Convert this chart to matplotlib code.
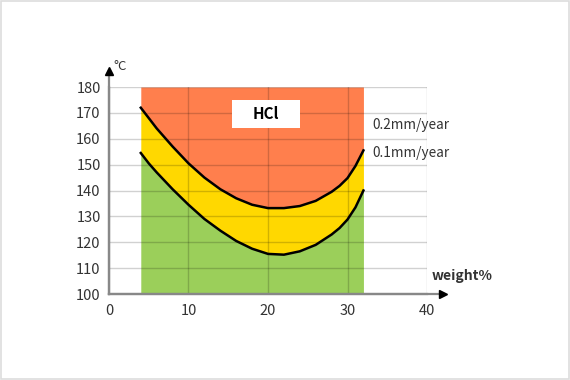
import numpy as np
import matplotlib.pyplot as plt
from matplotlib.patches import Rectangle

plt.rcParams['font.family'] = ['Noto Sans CJK JP', 'DejaVu Sans']

# weight% and temperature (°C) of the iso-corrosion lines
conc = [4, 5, 6, 8, 10, 12, 14, 16, 18, 20, 22, 24, 26, 28, 29, 30, 31, 32]
temp_02 = [172, 168, 164, 157, 150.5, 145, 140.5, 137, 134.5, 133.2, 133.2, 134, 136, 139.5, 141.8, 144.8, 149.5, 155.5]
temp_01 = [154.5, 150.5, 147, 140.5, 134.5, 129, 124.5, 120.5, 117.5, 115.5, 115.2, 116.5, 119, 123, 125.5, 128.8, 133.5, 140]
line_labels = ['0.2mm/year', '0.1mm/year']
xticks = [0, 10, 20, 30, 40]
yticks = [100, 110, 120, 130, 140, 150, 160, 170, 180]

fig = plt.figure(figsize=(5.7, 3.8), dpi=100)
ax = fig.add_axes([0.1912, 0.2263, 0.558, 0.5447])
ax.set_xlim(0, 40)
ax.set_ylim(100, 180)

x = np.array(conc)
lo = np.array(temp_01)
hi = np.array(temp_02)
ax.fill_between(x, 100, lo, color='#9BCF5A', lw=0, zorder=1)
ax.fill_between(x, lo, hi, color='#FFD800', lw=0, zorder=1)
ax.fill_between(x, hi, 180, color='#FF7F4D', lw=0, zorder=1)

ax.set_xticks(xticks)
ax.set_yticks(yticks)
ax.grid(True, color='black', alpha=0.18, lw=1, zorder=2)
ax.set_axisbelow(False)
for g in ax.get_xgridlines() + ax.get_ygridlines():
    g.set_zorder(2)

ax.plot(x, hi, color='black', lw=1.8, zorder=3, solid_joinstyle='round')
ax.plot(x, lo, color='black', lw=1.8, zorder=3, solid_joinstyle='round')

ax.tick_params(length=0, labelsize=10.5, colors='#333333')
ax.tick_params(axis='y', pad=6)
ax.tick_params(axis='x', pad=7)
for s in ['top', 'right']:
    ax.spines[s].set_visible(False)
for s in ['left', 'bottom']:
    ax.spines[s].set_color('#888888')
    ax.spines[s].set_linewidth(1.6)
    ax.spines[s].set_zorder(4)

# axis arrows
ax.plot([0, 0], [0, 1.075], color='#888888', lw=1.6, transform=ax.transAxes, clip_on=False, zorder=4)
ax.plot([0], [1.075], marker='^', ms=6, color='black', transform=ax.transAxes, clip_on=False, zorder=5)
ax.plot([0, 1.05], [0, 0], color='#888888', lw=1.6, transform=ax.transAxes, clip_on=False, zorder=4)
ax.plot([1.05], [0], marker='>', ms=6, color='black', transform=ax.transAxes, clip_on=False, zorder=5)

ax.text(0.015, 1.1, '°C', transform=ax.transAxes, fontsize=9.5, color='#333333', va='center', ha='left')
ax.text(40.6, 107, 'weight%', fontsize=10, fontweight='bold', color='#333333', va='center', ha='left')

ax.text(33.1, 165.3, line_labels[0], fontsize=9.8, color='#333333', va='center', ha='left')
ax.text(33.1, 154.5, line_labels[1], fontsize=9.8, color='#333333', va='center', ha='left')

ax.add_patch(Rectangle((15.5, 164.3), 8.5, 10.8, facecolor='white', edgecolor='none', zorder=5))
ax.text(19.75, 169.7, 'HCl', fontsize=11, fontweight='bold', color='black', ha='center', va='center', zorder=6)

fig.patches.append(Rectangle((0.001, 0.002), 0.997, 0.995, transform=fig.transFigure,
                             fill=False, edgecolor='#dddddd', lw=1.2))

fig.savefig('out.png', dpi=100)
